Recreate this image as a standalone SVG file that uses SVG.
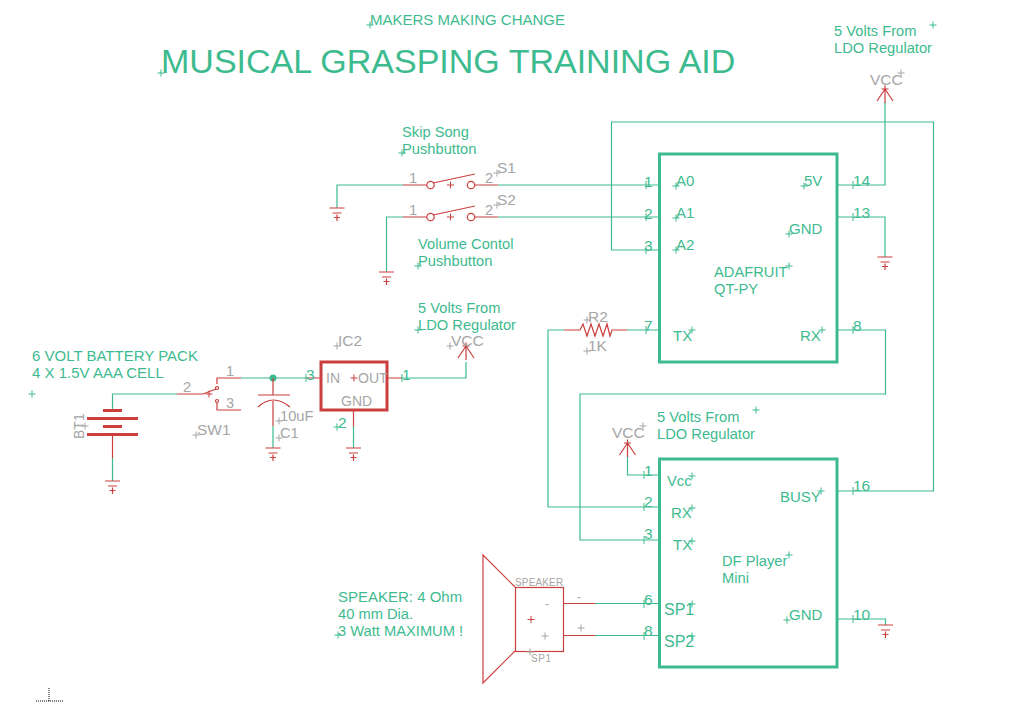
<svg xmlns="http://www.w3.org/2000/svg" width="1025" height="704" viewBox="0 0 1025 704">
<style>
text{font-family:"Liberation Sans",Arial,sans-serif;font-size:14.7px}
.g{fill:#3dbb8f}.k{fill:#a6a6a6}
.n{font-size:15.500px}
.l{font-size:15px}
.w,.r,.h,.c,.cg,.cr{fill:none}
.w{stroke:#3dbb8f;stroke-width:1.2}
.r{stroke:#cc3f3f;stroke-width:1.2}
.h{stroke:#cc3f3f;stroke-width:3}
.b{fill:none;stroke:#3dbb8f;stroke-width:3}
.c{stroke:#a6a6a6;stroke-width:1}
.cg{stroke:#3dbb8f;stroke-width:1}
.cr{stroke:#cc3f3f;stroke-width:1}
</style>
<defs>
<path id="x" d="M-3.500 0H3.500M0 -3.500V3.500"/>
<path id="gnd" class="r" d="M-7.500 0H7.500M-4.500 5H4.500M-3 9.500H3M0 6.500V13"/>
<path id="vcc" class="r" d="M-8 12L0 0L8 12M0 0V14M-3.500 0H3.500M0 -3.500V3"/>
<path id="tick" class="cg" d="M0 -4V4"/>
</defs>
<g id="connectors">
<path class="w" d="M177 394H112.500V410M112.500 458V481M241 378H305M402 378H466V362M273 426V448M353.500 426V448"/>
<path class="w" d="M337 208V185H403M498 185H659M386.500 272V217H403M498 217H659"/>
<path class="w" d="M659 250H611.500V122H933.500V491H838M838 185H885V102M838 217H885V257M838 330H885.500V394H580V540H659M659 330H627M564 330H548V507H659M659 475H627.500V457M838 619H885.500V625M595 603.500H659M595 635.500H659"/>
</g>
<g id="title">
<text class="g l" x="370" y="25">MAKERS MAKING CHANGE</text>
<use href="#x" class="cg" x="370" y="25"/>
<text class="g" x="161" y="73" style="font-size:34px">MUSICAL GRASPING TRAINING AID</text>
<use href="#x" class="cg" x="161" y="73"/>
</g>
<g id="note-ldo-top">
<text class="g" x="834" y="36">5 Volts From</text><text class="g" x="834" y="53">LDO Regulator</text>
<use href="#x" class="cg" x="933" y="25"/>
</g>
<g id="note-skip">
<text class="g" x="402" y="137">Skip Song</text><text class="g" x="402" y="154">Pushbutton</text>
<use href="#x" class="cg" x="402" y="153"/>
</g>
<g id="note-volume">
<text class="g" x="418" y="249">Volume Contol</text><text class="g" x="418" y="266">Pushbutton</text>
<use href="#x" class="cg" x="418" y="266"/>
</g>
<g id="note-ldo-mid">
<text class="g" x="418" y="313">5 Volts From</text><text class="g" x="418" y="330">LDO Regulator</text>
<use href="#x" class="cg" x="418" y="330"/>
</g>
<g id="note-ldo-df">
<text class="g" x="657" y="422">5 Volts From</text><text class="g" x="657" y="439">LDO Regulator</text>
<use href="#x" class="cg" x="756" y="410"/>
</g>
<g id="note-battery">
<text class="g l" x="32" y="361">6 VOLT BATTERY PACK</text><text class="g l" x="32" y="378">4 X 1.5V AAA CELL</text>
<use href="#x" class="cg" x="32" y="394"/>
</g>
<g id="note-speaker">
<text class="g l" x="338" y="602">SPEAKER: 4 Ohm</text><text class="g" x="338" y="619">40 mm Dia.</text><text class="g" x="338" y="636">3 Watt MAXIMUM !</text>
<use href="#x" class="cg" x="338" y="635"/>
</g>
<g id="BT1">
<path class="r" d="M112.500 434V458"/>
<path class="h" d="M103 410.500H122M87 418.500H138M103 426.500H122M87 434.500H138"/>
<text class="k" transform="translate(84 439) rotate(-90)" style="font-size:14px">BT1</text>
<use href="#x" class="c" x="85" y="426"/>
<use href="#gnd" x="112.500" y="481"/>
</g>
<g id="SW1">
<path class="r" d="M177 394H203L216 389M217 384V378H241M217 403V410H241"/>
<circle class="r" cx="217" cy="388" r="1.500"/><circle class="r" cx="217" cy="401" r="1.500"/>
<use href="#x" class="cr" x="209" y="394"/>
<text class="k" x="226" y="376">1</text>
<text class="k" x="183" y="392">2</text>
<text class="k" x="226" y="408">3</text>
<text class="k n" x="197" y="435">SW1</text>
<use href="#x" class="c" x="196" y="435"/>
</g>
<g id="C1">
<circle cx="273" cy="378" r="3.500" fill="#3dbb8f"/>
<path class="r" d="M273 378V395M258 395H290M258 407Q273 393 290 407M273 401V426"/>
<text class="k" x="280" y="421">10uF</text>
<use href="#x" class="c" x="279" y="421"/>
<text class="k" x="280" y="438">C1</text>
<use href="#x" class="c" x="279" y="438"/>
<use href="#gnd" x="273" y="448"/>
</g>
<g id="IC2">
<rect class="h" x="321" y="362" width="66" height="48"/>
<path class="r" d="M305 378H320M388 378H402M353.500 411V426"/>
<text class="k" x="326" y="383" style="font-size:14px">IN</text>
<text class="k" x="358" y="383" style="font-size:14px">OUT</text>
<text class="k" x="341" y="406" style="font-size:14px">GND</text>
<use href="#x" class="cr" x="354" y="378"/>
<text class="k n" x="338" y="346">IC2</text>
<use href="#x" class="c" x="337" y="346"/>
<text class="g n" x="306" y="380">3</text>
<use href="#tick" x="306" y="378"/>
<text class="g n" x="402" y="380">1</text>
<use href="#tick" x="402" y="378"/>
<text class="g n" x="338" y="428">2</text>
<use href="#x" class="cg" x="337" y="427"/>
<use href="#gnd" x="353.500" y="448"/>
</g>
<g id="VCC-1">
<use href="#vcc" x="466" y="346"/>
<text class="k n" x="451" y="346">VCC</text>
<use href="#x" class="c" x="450" y="346"/>
</g>
<g id="VCC-2">
<use href="#vcc" x="885" y="89"/>
<text class="k n" x="870" y="85">VCC</text>
<use href="#x" class="c" x="901" y="73"/>
</g>
<g id="VCC-3">
<use href="#vcc" x="627.500" y="443"/>
<text class="k n" x="612" y="438">VCC</text>
<use href="#x" class="c" x="643" y="426"/>
</g>
<g id="S1">
<path class="r" d="M403 185H427M475 185H498M433 183L475 174"/>
<circle class="r" cx="430.500" cy="185" r="3.700"/><circle class="r" cx="471" cy="185" r="3.700"/>
<use href="#x" class="cr" x="450.500" y="185"/>
<text class="k" x="409" y="183">1</text>
<text class="k" x="485" y="183">2</text>
<text class="k n" x="497" y="173">S1</text>
<use href="#x" class="c" x="497" y="173"/>
<use href="#gnd" x="337" y="208"/>
</g>
<g id="S2">
<path class="r" d="M403 217H427M475 217H498M433 215L475 206"/>
<circle class="r" cx="430.500" cy="217" r="3.700"/><circle class="r" cx="471" cy="217" r="3.700"/>
<use href="#x" class="cr" x="450.500" y="217"/>
<text class="k" x="409" y="215">1</text>
<text class="k" x="485" y="215">2</text>
<text class="k n" x="497" y="205">S2</text>
<use href="#x" class="c" x="497" y="205"/>
<use href="#gnd" x="386.500" y="272"/>
</g>
<g id="R2">
<path class="r" d="M564 330H580L583 324L587 336L591 324L595 336L599 324L603 336L607 324L610 336L612 330H627"/>
<text class="k n" x="588" y="322">R2</text>
<use href="#x" class="c" x="587" y="320"/>
<text class="k n" x="588" y="351">1K</text>
<use href="#x" class="c" x="587" y="351"/>
</g>
<g id="QT-PY">
<rect class="b" x="659.500" y="154" width="177.500" height="208"/>
<text class="g n" x="644" y="187">1</text><use href="#tick" x="646" y="185"/>
<text class="g n" x="644" y="219">2</text><use href="#tick" x="646" y="217"/>
<text class="g n" x="644" y="251">3</text><use href="#tick" x="646" y="250"/>
<text class="g n" x="644" y="331">7</text><use href="#tick" x="646" y="330"/>
<text class="g n" x="853" y="186">14</text><use href="#tick" x="853" y="185"/>
<text class="g n" x="853" y="218">13</text><use href="#tick" x="853" y="217"/>
<text class="g n" x="853" y="331">8</text><use href="#tick" x="853" y="330"/>
<text class="g l" x="676" y="186">A0</text><use href="#x" class="cg" x="676" y="186"/>
<text class="g l" x="676" y="218">A1</text><use href="#x" class="cg" x="676" y="218"/>
<text class="g l" x="676" y="250">A2</text><use href="#x" class="cg" x="676" y="250"/>
<text class="g l" x="673" y="341">TX</text><use href="#x" class="cg" x="692" y="330"/>
<text class="g l" x="804" y="186">5V</text><use href="#x" class="cg" x="804" y="186"/>
<text class="g l" x="789" y="234">GND</text><use href="#x" class="cg" x="789" y="234"/>
<text class="g l" x="800" y="341">RX</text><use href="#x" class="cg" x="822" y="330"/>
<text class="g" x="714" y="277">ADAFRUIT</text><text class="g" x="714" y="294">QT-PY</text>
<use href="#x" class="cg" x="789" y="266"/>
<use href="#gnd" x="885" y="257"/>
</g>
<g id="DF-Player">
<rect class="b" x="659.500" y="459" width="177.500" height="208"/>
<text class="g n" x="644" y="476">1</text><use href="#tick" x="644" y="475"/>
<text class="g n" x="644" y="507">2</text><use href="#tick" x="644" y="507"/>
<text class="g n" x="644" y="539">3</text><use href="#tick" x="644" y="540"/>
<text class="g n" x="644" y="605">6</text><use href="#tick" x="644" y="604"/>
<text class="g n" x="644" y="636">8</text><use href="#tick" x="644" y="636"/>
<text class="g n" x="853" y="491">16</text><use href="#tick" x="853" y="491"/>
<text class="g n" x="853" y="620">10</text><use href="#tick" x="853" y="619"/>
<text class="g" x="667" y="486">Vcc</text><use href="#x" class="cg" x="692" y="476"/>
<text class="g l" x="671" y="518">RX</text><use href="#x" class="cg" x="692" y="508"/>
<text class="g l" x="673" y="550">TX</text><use href="#x" class="cg" x="692" y="541"/>
<text class="g" x="664" y="615" style="font-size:16px">SP1</text><use href="#x" class="cg" x="692" y="604"/>
<text class="g" x="664" y="647" style="font-size:16px">SP2</text><use href="#x" class="cg" x="692" y="636"/>
<text class="g l" x="780" y="502">BUSY</text><use href="#x" class="cg" x="821" y="491"/>
<text class="g l" x="789" y="620">GND</text><use href="#x" class="cg" x="787" y="620"/>
<text class="g" x="722" y="566">DF Player</text><text class="g" x="722" y="583">Mini</text>
<use href="#x" class="cg" x="789" y="555"/>
<use href="#gnd" x="885.500" y="625"/>
</g>
<g id="SP1">
<rect class="r" x="515.500" y="587.500" width="48" height="64"/>
<path class="r" d="M515 587L483 555V683L515 651M563 603.500H595M563 635.500H595"/>
<use href="#x" class="cr" x="531" y="619.500"/>
<text class="k" x="515" y="586" style="font-size:10px;letter-spacing:.15px">SPEAKER</text>
<text class="k" x="531" y="662" style="font-size:10px;letter-spacing:.6px">SP1</text>
<use href="#x" class="c" x="530" y="652"/>
<text class="k" x="545" y="608" style="font-size:12px">-</text>
<use href="#x" class="c" x="545" y="636"/>
<text class="k" x="577" y="601" style="font-size:12px">-</text>
<use href="#x" class="c" x="581" y="628"/>
</g>
<g id="origin">
<path d="M36 701H63M49 688V701" fill="none" stroke="#000" stroke-width="1" stroke-dasharray="1 1"/>
</g>
</svg>
